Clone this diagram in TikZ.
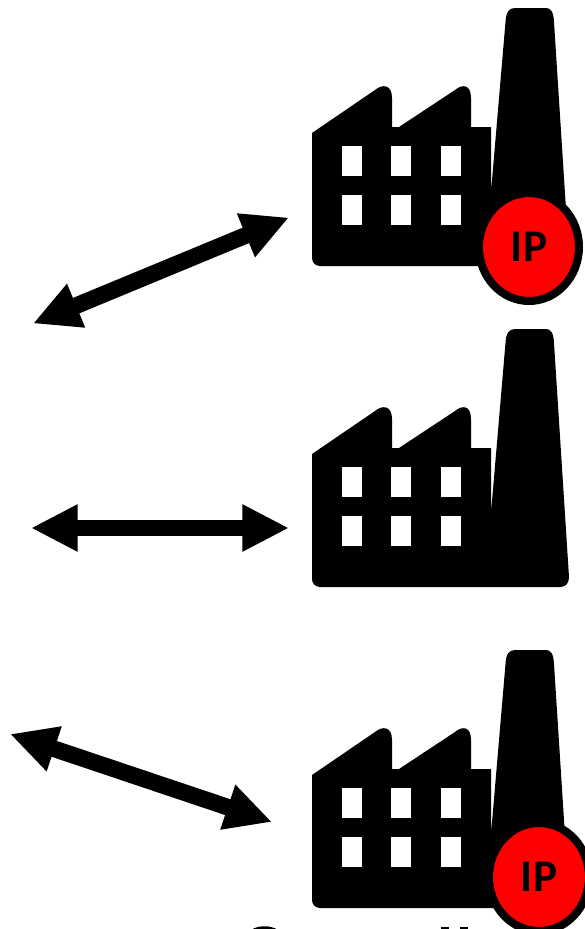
\documentclass[tikz,border=0pt]{standalone}
\usepackage{fontspec}
\setsansfont{Carlito}
\usepackage{xcolor}
\usepackage{tikz}
\usetikzlibrary{arrows.meta, shapes.geometric}

\tikzset{
  flow/.style={line width=12.5pt, {Triangle[length=35pt,width=33pt]}-{Triangle[length=35pt,width=33pt]}},
  ipbadge/.style={ellipse, draw=black, fill=red, line width=6pt, minimum width=75pt, minimum height=81pt, inner sep=0pt, font=\sffamily\bfseries\fontsize{34pt}{34pt}\selectfont},
  factory/.pic={
    %Shape: Factory outline
    \fill [black] (0,250) -- (0,125) -- (63,82) .. controls (70,76) and (80,76) .. (80,90) -- (80,119) -- (87,119) -- (143,82) .. controls (150,76) and (159,76) .. (159,90) -- (159,119) -- (179,119) -- (179,184) -- (193.5,14) .. controls (194,4) and (197,0) .. (203,0) -- (234,0) .. controls (239,0) and (241.5,4) .. (242,14) -- (257,248) .. controls (257,254) and (254,258) .. (248,258) -- (8,258) .. controls (3,258) and (0,254) .. (0,250) -- cycle ;
    %Shape: Windows
    \foreach \wx in {30,79,129} \foreach \wy in {138,187}
      \fill [white] (\wx,\wy) rectangle ++(20,30) ;
  }
}

\begin{document}
\begin{tikzpicture}[x=0.75pt,y=0.75pt,yscale=-1,xscale=1]
\clip (0,0) rectangle (585,929);

%Factories
\pic [yscale=-1] at (312,8) {factory};
\pic [yscale=-1] at (312,329) {factory};
\pic [yscale=-1] at (312,650) {factory};

%Arrow ends
\coordinate (topleft) at (33,323.5);
\coordinate (topright) at (289,217.5);
\coordinate (midleft) at (31,528);
\coordinate (midright) at (289,528);
\coordinate (lowleft) at (10,734);
\coordinate (lowright) at (272,822);

%Straight Lines
\draw [flow] (topleft) -- (topright) ;
\draw [flow] (midleft) -- (midright) ;
\draw [flow] (lowleft) -- (lowright) ;

% Text Node
\node [ipbadge] (ipup) at (529,247) {IP};
% Text Node
\node [ipbadge] (iplow) at (539,877) {IP};

%Shape: cut-off marks at the lower edge
\fill [black] (251,930) .. controls (258,925) and (271,925) .. (278,930) -- cycle ;
\fill [black] (441,926.5) rectangle (449,930) ;
\fill [black] (460,926.5) rectangle (468,930) ;

\end{tikzpicture}
\end{document}
